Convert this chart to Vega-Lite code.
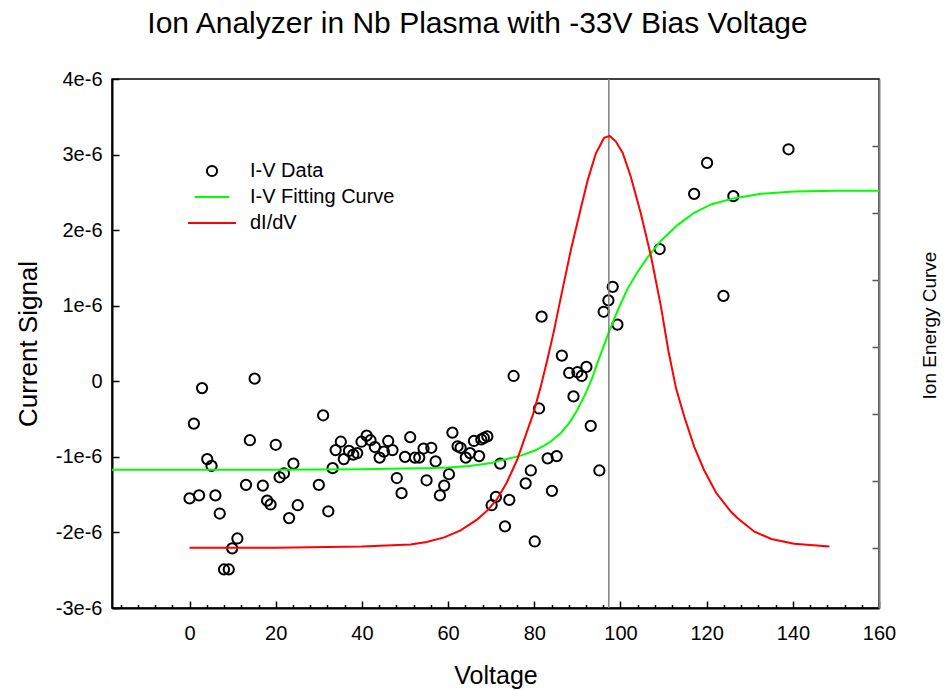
{
  "$schema": "https://vega.github.io/schema/vega-lite/v6.json",
  "width": 767,
  "height": 529,
  "autosize": "none",
  "padding": {"left": 112, "top": 79, "right": 67, "bottom": 82},
  "background": "white",
  "title": {"text": "Ion Analyzer in Nb Plasma with -33V Bias Voltage", "fontSize": 30, "fontWeight": "normal", "color": "black", "font": "Liberation Sans", "offset": 30, "anchor": "middle", "dx": -18},
  "config": {
    "font": "Liberation Sans",
    "view": {"stroke": "black", "strokeWidth": 1.5},
    "axis": {"grid": false, "domainColor": "black", "domainWidth": 2, "tickColor": "black", "tickWidth": 1.5, "labelColor": "black", "titleColor": "black", "labelFontSize": 20, "titleFontSize": 25, "titleFontWeight": "normal", "labelFont": "Liberation Sans", "titleFont": "Liberation Sans", "labelFlush": false, "labelOverlap": false},
    "legend": {"orient": "none", "legendX": 75, "legendY": 82, "columns": 1, "clipHeight": 20, "rowPadding": 6, "labelFontSize": 20, "labelOffset": 13, "symbolStrokeWidth": 2, "padding": 0, "labelColor": "black", "labelFont": "Liberation Sans", "labelLimit": 400}
  },
  "datasets": {
    "points": [
      {"voltage": 0.0, "current": -1.55e-6, "series": "I-V Data"},
      {"voltage": 1.0, "current": -0.56e-6, "series": "I-V Data"},
      {"voltage": 2.2, "current": -1.51e-6, "series": "I-V Data"},
      {"voltage": 2.9, "current": -0.09e-6, "series": "I-V Data"},
      {"voltage": 4.1, "current": -1.03e-6, "series": "I-V Data"},
      {"voltage": 5.1, "current": -1.12e-6, "series": "I-V Data"},
      {"voltage": 6.0, "current": -1.51e-6, "series": "I-V Data"},
      {"voltage": 7.0, "current": -1.75e-6, "series": "I-V Data"},
      {"voltage": 8.0, "current": -2.49e-6, "series": "I-V Data"},
      {"voltage": 9.1, "current": -2.49e-6, "series": "I-V Data"},
      {"voltage": 9.9, "current": -2.21e-6, "series": "I-V Data"},
      {"voltage": 11.1, "current": -2.08e-6, "series": "I-V Data"},
      {"voltage": 13.1, "current": -1.37e-6, "series": "I-V Data"},
      {"voltage": 14.0, "current": -0.78e-6, "series": "I-V Data"},
      {"voltage": 15.1, "current": 0.035e-6, "series": "I-V Data"},
      {"voltage": 17.0, "current": -1.38e-6, "series": "I-V Data"},
      {"voltage": 18.0, "current": -1.58e-6, "series": "I-V Data"},
      {"voltage": 18.8, "current": -1.63e-6, "series": "I-V Data"},
      {"voltage": 20.0, "current": -0.84e-6, "series": "I-V Data"},
      {"voltage": 20.9, "current": -1.27e-6, "series": "I-V Data"},
      {"voltage": 21.9, "current": -1.22e-6, "series": "I-V Data"},
      {"voltage": 23.1, "current": -1.81e-6, "series": "I-V Data"},
      {"voltage": 24.1, "current": -1.09e-6, "series": "I-V Data"},
      {"voltage": 25.1, "current": -1.64e-6, "series": "I-V Data"},
      {"voltage": 30.0, "current": -1.37e-6, "series": "I-V Data"},
      {"voltage": 31.0, "current": -0.45e-6, "series": "I-V Data"},
      {"voltage": 32.2, "current": -1.72e-6, "series": "I-V Data"},
      {"voltage": 33.2, "current": -1.15e-6, "series": "I-V Data"},
      {"voltage": 33.9, "current": -0.91e-6, "series": "I-V Data"},
      {"voltage": 35.1, "current": -0.80e-6, "series": "I-V Data"},
      {"voltage": 35.8, "current": -1.03e-6, "series": "I-V Data"},
      {"voltage": 37.0, "current": -0.92e-6, "series": "I-V Data"},
      {"voltage": 38.0, "current": -0.97e-6, "series": "I-V Data"},
      {"voltage": 38.9, "current": -0.95e-6, "series": "I-V Data"},
      {"voltage": 39.9, "current": -0.80e-6, "series": "I-V Data"},
      {"voltage": 41.1, "current": -0.72e-6, "series": "I-V Data"},
      {"voltage": 42.0, "current": -0.78e-6, "series": "I-V Data"},
      {"voltage": 43.0, "current": -0.87e-6, "series": "I-V Data"},
      {"voltage": 44.1, "current": -1.01e-6, "series": "I-V Data"},
      {"voltage": 45.1, "current": -0.93e-6, "series": "I-V Data"},
      {"voltage": 46.1, "current": -0.79e-6, "series": "I-V Data"},
      {"voltage": 47.1, "current": -0.91e-6, "series": "I-V Data"},
      {"voltage": 48.1, "current": -1.28e-6, "series": "I-V Data"},
      {"voltage": 49.2, "current": -1.48e-6, "series": "I-V Data"},
      {"voltage": 50.0, "current": -1.00e-6, "series": "I-V Data"},
      {"voltage": 51.2, "current": -0.74e-6, "series": "I-V Data"},
      {"voltage": 52.3, "current": -1.01e-6, "series": "I-V Data"},
      {"voltage": 53.3, "current": -1.01e-6, "series": "I-V Data"},
      {"voltage": 54.3, "current": -0.89e-6, "series": "I-V Data"},
      {"voltage": 55.0, "current": -1.31e-6, "series": "I-V Data"},
      {"voltage": 56.1, "current": -0.88e-6, "series": "I-V Data"},
      {"voltage": 57.1, "current": -1.06e-6, "series": "I-V Data"},
      {"voltage": 58.1, "current": -1.51e-6, "series": "I-V Data"},
      {"voltage": 59.1, "current": -1.38e-6, "series": "I-V Data"},
      {"voltage": 60.2, "current": -1.23e-6, "series": "I-V Data"},
      {"voltage": 61.0, "current": -0.68e-6, "series": "I-V Data"},
      {"voltage": 62.2, "current": -0.86e-6, "series": "I-V Data"},
      {"voltage": 62.9, "current": -0.88e-6, "series": "I-V Data"},
      {"voltage": 64.1, "current": -1.01e-6, "series": "I-V Data"},
      {"voltage": 65.1, "current": -0.95e-6, "series": "I-V Data"},
      {"voltage": 66.0, "current": -0.79e-6, "series": "I-V Data"},
      {"voltage": 67.2, "current": -0.99e-6, "series": "I-V Data"},
      {"voltage": 67.7, "current": -0.77e-6, "series": "I-V Data"},
      {"voltage": 68.3, "current": -0.75e-6, "series": "I-V Data"},
      {"voltage": 69.1, "current": -0.73e-6, "series": "I-V Data"},
      {"voltage": 70.1, "current": -1.64e-6, "series": "I-V Data"},
      {"voltage": 71.1, "current": -1.53e-6, "series": "I-V Data"},
      {"voltage": 72.1, "current": -1.09e-6, "series": "I-V Data"},
      {"voltage": 73.2, "current": -1.92e-6, "series": "I-V Data"},
      {"voltage": 74.2, "current": -1.57e-6, "series": "I-V Data"},
      {"voltage": 75.2, "current": 0.07e-6, "series": "I-V Data"},
      {"voltage": 78.0, "current": -1.35e-6, "series": "I-V Data"},
      {"voltage": 79.2, "current": -1.18e-6, "series": "I-V Data"},
      {"voltage": 80.1, "current": -2.12e-6, "series": "I-V Data"},
      {"voltage": 81.1, "current": -0.36e-6, "series": "I-V Data"},
      {"voltage": 81.7, "current": 0.855e-6, "series": "I-V Data"},
      {"voltage": 83.1, "current": -1.02e-6, "series": "I-V Data"},
      {"voltage": 84.1, "current": -1.45e-6, "series": "I-V Data"},
      {"voltage": 85.2, "current": -0.99e-6, "series": "I-V Data"},
      {"voltage": 86.4, "current": 0.34e-6, "series": "I-V Data"},
      {"voltage": 88.1, "current": 0.11e-6, "series": "I-V Data"},
      {"voltage": 89.1, "current": -0.20e-6, "series": "I-V Data"},
      {"voltage": 90.0, "current": 0.12e-6, "series": "I-V Data"},
      {"voltage": 91.0, "current": 0.07e-6, "series": "I-V Data"},
      {"voltage": 92.1, "current": 0.19e-6, "series": "I-V Data"},
      {"voltage": 93.1, "current": -0.59e-6, "series": "I-V Data"},
      {"voltage": 95.1, "current": -1.18e-6, "series": "I-V Data"},
      {"voltage": 96.1, "current": 0.92e-6, "series": "I-V Data"},
      {"voltage": 97.2, "current": 1.07e-6, "series": "I-V Data"},
      {"voltage": 98.2, "current": 1.25e-6, "series": "I-V Data"},
      {"voltage": 99.3, "current": 0.75e-6, "series": "I-V Data"},
      {"voltage": 109.1, "current": 1.75e-6, "series": "I-V Data"},
      {"voltage": 117.1, "current": 2.48e-6, "series": "I-V Data"},
      {"voltage": 120.1, "current": 2.89e-6, "series": "I-V Data"},
      {"voltage": 123.9, "current": 1.13e-6, "series": "I-V Data"},
      {"voltage": 126.2, "current": 2.45e-6, "series": "I-V Data"},
      {"voltage": 139.0, "current": 3.07e-6, "series": "I-V Data"}
    ],
    "fit": [
      {"voltage": -18, "current": -1.17e-6},
      {"voltage": 0, "current": -1.17e-6},
      {"voltage": 20, "current": -1.17e-6},
      {"voltage": 40, "current": -1.165e-6},
      {"voltage": 50, "current": -1.155e-6},
      {"voltage": 55, "current": -1.15e-6},
      {"voltage": 60, "current": -1.14e-6},
      {"voltage": 65, "current": -1.12e-6},
      {"voltage": 70, "current": -1.08e-6},
      {"voltage": 72, "current": -1.05e-6},
      {"voltage": 75, "current": -1.01e-6},
      {"voltage": 77, "current": -0.98e-6},
      {"voltage": 80, "current": -0.92e-6},
      {"voltage": 82.3, "current": -0.85e-6},
      {"voltage": 84, "current": -0.79e-6},
      {"voltage": 86.2, "current": -0.68e-6},
      {"voltage": 88, "current": -0.56e-6},
      {"voltage": 90, "current": -0.38e-6},
      {"voltage": 92, "current": -0.15e-6},
      {"voltage": 93.5, "current": 0.05e-6},
      {"voltage": 94.5, "current": 0.22e-6},
      {"voltage": 96, "current": 0.45e-6},
      {"voltage": 97.3, "current": 0.65e-6},
      {"voltage": 99.3, "current": 0.93e-6},
      {"voltage": 101.6, "current": 1.22e-6},
      {"voltage": 104, "current": 1.45e-6},
      {"voltage": 106.3, "current": 1.64e-6},
      {"voltage": 109.4, "current": 1.86e-6},
      {"voltage": 113.3, "current": 2.07e-6},
      {"voltage": 117.1, "current": 2.23e-6},
      {"voltage": 121, "current": 2.34e-6},
      {"voltage": 126.2, "current": 2.42e-6},
      {"voltage": 132.6, "current": 2.48e-6},
      {"voltage": 140.3, "current": 2.51e-6},
      {"voltage": 150, "current": 2.52e-6},
      {"voltage": 160, "current": 2.52e-6}
    ],
    "didv": [
      {"voltage": 0, "energy": 0},
      {"voltage": 20, "energy": 0.0},
      {"voltage": 40, "energy": 0.02},
      {"voltage": 51.3, "energy": 0.05},
      {"voltage": 55, "energy": 0.085},
      {"voltage": 59.1, "energy": 0.155},
      {"voltage": 62.9, "energy": 0.26},
      {"voltage": 66.7, "energy": 0.42},
      {"voltage": 69.0, "energy": 0.55},
      {"voltage": 71.3, "energy": 0.72},
      {"voltage": 73.6, "energy": 0.97},
      {"voltage": 76.0, "energy": 1.31},
      {"voltage": 77.9, "energy": 1.66},
      {"voltage": 79.8, "energy": 2.01},
      {"voltage": 81.4, "energy": 2.38},
      {"voltage": 83.0, "energy": 2.8},
      {"voltage": 84.5, "energy": 3.22},
      {"voltage": 86.2, "energy": 3.75},
      {"voltage": 88.5, "energy": 4.45},
      {"voltage": 90.8, "energy": 5.07},
      {"voltage": 92.4, "energy": 5.49},
      {"voltage": 94.3, "energy": 5.89},
      {"voltage": 96.2, "energy": 6.12},
      {"voltage": 97.5, "energy": 6.15},
      {"voltage": 98.9, "energy": 6.07},
      {"voltage": 100.5, "energy": 5.9},
      {"voltage": 102.4, "energy": 5.54},
      {"voltage": 104.7, "energy": 5.0},
      {"voltage": 107.1, "energy": 4.35},
      {"voltage": 109.4, "energy": 3.6},
      {"voltage": 111.1, "energy": 2.95},
      {"voltage": 112.9, "energy": 2.38},
      {"voltage": 114.8, "energy": 1.96},
      {"voltage": 117.1, "energy": 1.51},
      {"voltage": 119.4, "energy": 1.16},
      {"voltage": 122.2, "energy": 0.82},
      {"voltage": 125.6, "energy": 0.54},
      {"voltage": 127.2, "energy": 0.44},
      {"voltage": 131.1, "energy": 0.24},
      {"voltage": 135.0, "energy": 0.13},
      {"voltage": 140.3, "energy": 0.06},
      {"voltage": 148.5, "energy": 0.02}
    ]
  },
  "layer": [
    {
      "layer": [
        {
          "data": {"name": "points"},
          "mark": {"type": "point", "filled": false, "opacity": 1, "strokeWidth": 2},
          "encoding": {
            "x": {"field": "voltage", "type": "quantitative", "scale": {"domain": [-18, 160], "nice": false, "zero": false},
              "axis": {"orient": "bottom", "values": [0, 20, 40, 60, 80, 100, 120, 140, 160], "tickSize": -7, "labelPadding": 22, "title": "Voltage", "titlePadding": 20}},
            "y": {"field": "current", "type": "quantitative", "scale": {"domain": [-3e-6, 4e-6], "nice": false, "zero": false},
              "axis": {"orient": "left", "values": [-3e-6, -2e-6, -1e-6, 0, 1e-6, 2e-6, 3e-6, 4e-6], "labelExpr": "abs(datum.value) < 1e-12 ? '0' : replace(format(datum.value, '.0e'), '\u2212', '-')", "tickSize": -7, "labelPadding": 17, "title": "Current Signal", "titlePadding": 14, "titleFontSize": 26}},
            "color": {"field": "series", "type": "nominal", "scale": {"domain": ["I-V Data", "I-V Fitting Curve", "dI/dV"], "range": ["#000000", "#00ff00", "#ff0000"]}, "legend": {"title": null}},
            "shape": {"field": "series", "type": "nominal", "scale": {"domain": ["I-V Data", "I-V Fitting Curve", "dI/dV"], "range": ["circle", "stroke", "stroke"]}, "legend": {"title": null}},
            "size": {"field": "series", "type": "nominal", "scale": {"domain": ["I-V Data", "I-V Fitting Curve", "dI/dV"], "range": [105, 2304, 2304]}, "legend": {"title": null}}
          }
        },
        {
          "data": {"name": "fit"},
          "mark": {"type": "line", "color": "#00ff00", "strokeWidth": 2},
          "encoding": {
            "x": {"field": "voltage", "type": "quantitative"},
            "y": {"field": "current", "type": "quantitative"}
          }
        },
        {
          "data": {"values": [{}]},
          "mark": {"type": "rule", "color": "#808080", "strokeWidth": 1.5},
          "encoding": {"x": {"datum": 97.3, "type": "quantitative"}}
        }
      ]
    },
    {
      "data": {"name": "didv"},
      "mark": {"type": "line", "color": "#ff0000", "strokeWidth": 2},
      "encoding": {
        "x": {"field": "voltage", "type": "quantitative",
          "axis": {"orient": "bottom", "values": [-16, -12, -8, -4, 4, 8, 12, 16, 24, 28, 32, 36, 44, 48, 52, 56, 64, 68, 72, 76, 84, 88, 92, 96, 104, 108, 112, 116, 124, 128, 132, 136, 144, 148, 152, 156], "tickSize": -3.5, "labels": false, "domain": false, "title": null}},
        "y": {"field": "energy", "type": "quantitative", "scale": {"domain": [-0.9, 7.0], "nice": false, "zero": false},
          "axis": {"orient": "right", "values": [0, 1, 2, 3, 4, 5, 6], "labels": false, "tickSize": -7, "domainColor": "#808080", "tickColor": "#555555", "title": "Ion Energy Curve", "titleFontSize": 19, "titleAngle": 270, "titlePadding": 60, "titleY": 246}}
      }
    }
  ],
  "resolve": {"scale": {"y": "independent"}, "axis": {"x": "independent"}}
}
